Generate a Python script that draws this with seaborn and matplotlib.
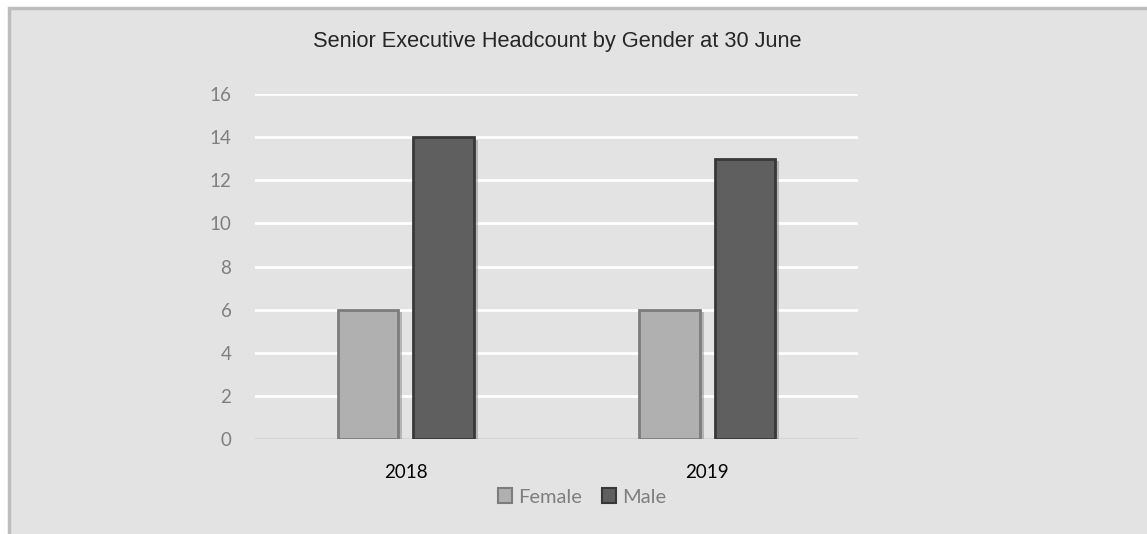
import pandas as pd
import matplotlib.pyplot as plt
import matplotlib.patheffects as pe
from matplotlib.patches import Rectangle, Patch
import seaborn as sns

years = ['2018', '2019']
female = [6, 6]
male = [14, 13]
yticks = [0, 2, 4, 6, 8, 10, 12, 14, 16]

bg = '#e3e3e3'
colors = {'Female': '#b0b0b0', 'Male': '#5f5f5f'}
edges = {'Female': '#7c7c7c', 'Male': '#383838'}

df = pd.DataFrame({'year': years * 2,
                   'gender': ['Female'] * len(years) + ['Male'] * len(years),
                   'count': female + male})

sns.set_style('white', {'axes.facecolor': bg})
plt.rcParams['font.family'] = ['Lato', 'DejaVu Sans']

fig = plt.figure(figsize=(11.47, 5.34), dpi=100)
fig.patch.set_facecolor('white')
# chart frame, kept behind the axes
frame = Rectangle((9 / 1147, -0.05), 1.2, (534 - 8) / 534 + 0.05, transform=fig.transFigure,
                  facecolor=bg, edgecolor='#bdbdbd', linewidth=2.5, zorder=-10)
fig.patches.append(frame)

ax = fig.add_axes([255 / 1147, 1 - 439 / 534, 603 / 1147, 345 / 534])
sns.barplot(ax=ax, data=df, x='year', y='count', hue='gender', palette=colors,
            width=0.5, gap=0.2, legend=False, zorder=3)

for i, bar in enumerate(ax.patches):
    g = 'Female' if i < len(years) else 'Male'
    bar.set_edgecolor(edges[g])
    bar.set_linewidth(2)
    bar.set_path_effects([pe.SimplePatchShadow(offset=(3, -2), shadow_rgbFace='#888888', alpha=0.5),
                          pe.Normal()])

ax.set_ylim(0, 16)
ax.set_yticks(yticks)
ax.yaxis.grid(True, color='white', linewidth=2, zorder=0)
ax.set_axisbelow(True)
ax.axhline(0, color='#d4d4d4', linewidth=1.5, zorder=1)
for s in ax.spines.values():
    s.set_visible(False)

ax.tick_params(axis='y', length=0, pad=17, labelsize=13.5, labelcolor='#7f7f7f')
ax.tick_params(axis='x', length=0, pad=18, labelsize=13.5, labelcolor='black')
ax.set_xlabel('')
ax.set_ylabel('')

fig.text(557 / 1147, 1 - 41 / 534, 'Senior Executive Headcount by Gender at 30 June',
         ha='center', va='center', fontsize=15.7, family='Liberation Sans')

handles = [Patch(facecolor=colors[g], edgecolor=edges[g], linewidth=1.5, label=g) for g in ['Female', 'Male']]
leg = fig.legend(handles=handles, loc='center', bbox_to_anchor=(582 / 1147, 1 - 497 / 534),
                 ncol=2, frameon=False, fontsize=14.5, handlelength=0.7, handleheight=0.7,
                 handletextpad=0.3, columnspacing=1.0)
for t in leg.get_texts():
    t.set_color('#7f7f7f')

fig.savefig('out.png', dpi=100)
